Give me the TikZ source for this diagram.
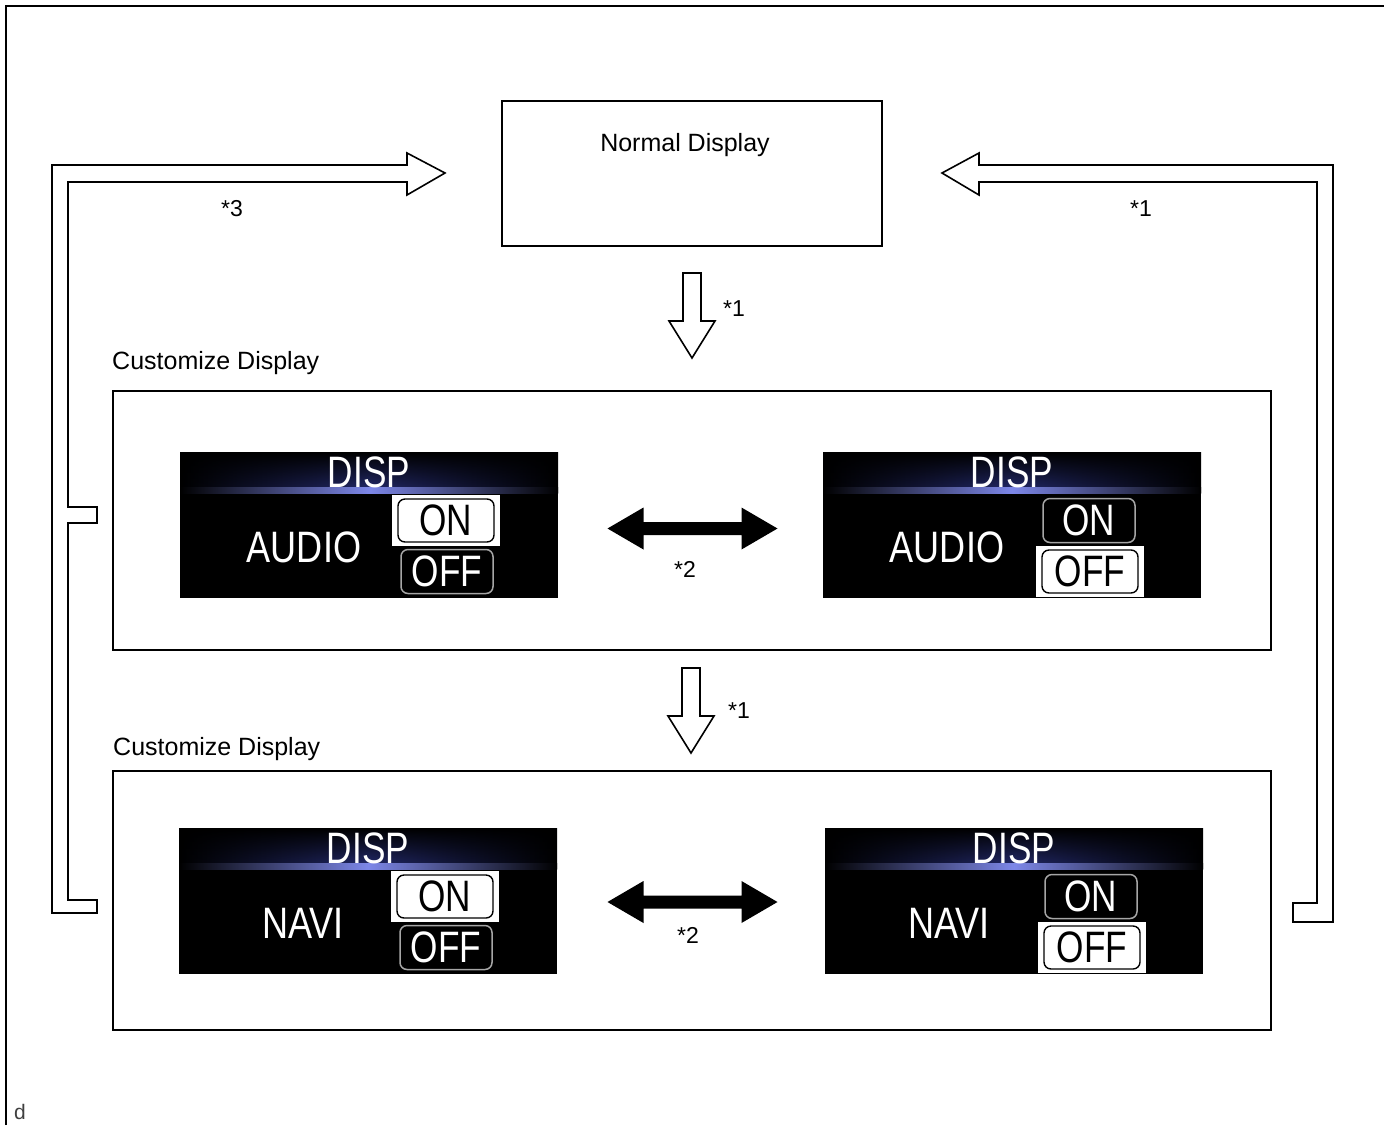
\documentclass[tikz,border=0pt]{standalone}
\usepackage{fontspec}
\setmainfont{Liberation Sans}
\usetikzlibrary{fadings,calc}
\tikzfading[name=fadedown, top color=transparent!0, bottom color=transparent!100]
\definecolor{bandblue}{RGB}{38,45,115}
\definecolor{glowblue}{RGB}{125,135,232}
\tikzset{
  frameline/.style={line width=1.5pt},
  boxstyle/.style={draw, line width=1.6pt, inner sep=0, outer sep=0},
  lbl/.style={font=\fontsize{25}{30}\selectfont, inner sep=0, anchor=base},
  starlbl/.style={font=\fontsize{23}{28}\selectfont, inner sep=0, anchor=base},
  blockarrow/.style={draw, line width=1.6pt, fill=white, line join=miter},
  solidarrow/.style={fill=black},
  screenbg/.style={fill=black, minimum width=378pt, minimum height=146pt, inner sep=0, outer sep=0},
  scrtext/.style={text=white, font=\fontsize{44}{50}\selectfont, inner sep=0},
  btnsel/.style={fill=white, text=black, minimum width=108pt, minimum height=51pt, inner sep=0,
    font=\fontsize{44}{50}\selectfont,
    path picture={\draw[black, line width=1.4pt, rounded corners=7pt]
      ([xshift=6pt,yshift=-4pt]path picture bounding box.north west) rectangle
      ([xshift=-6pt,yshift=4pt]path picture bounding box.south east);}},
  btnun/.style={draw=gray!70, line width=1.5pt, rounded corners=7pt, text=white,
    minimum width=92pt, minimum height=44pt, inner sep=0, font=\fontsize{44}{50}\selectfont},
}
\newcommand\dispscreen[6]{%
  \node[screenbg, anchor=north west] (#1) at (#2,-#3) {};
  \begin{scope}[shift={(#2,-#3)}]
    \fill[left color=black, right color=black, middle color=bandblue] (0,0) rectangle (378,-40);
    \fill[black, path fading=fadedown] (0,0) rectangle (378,-40);
    \fill[left color=black, right color=black, middle color=glowblue] (0,-35) rectangle (378,-41);
    \node[scrtext] (#1disp) at (189,-20) {\scalebox{0.8}[1]{DISP}};
    \node[scrtext] (#1lbl) at (124,-95) {\scalebox{0.82}[1]{#4}};
    \node[#5] (#1on) at (266,-68.5) {\scalebox{0.8}[1]{ON}};
    \node[#6] (#1off) at (267,-119.5) {\scalebox{0.8}[1]{OFF}};
  \end{scope}}
\newcommand\blkdownarrow[1]{%
  \draw[blockarrow, shift={(#1)}] (-9,0) -- (9,0) -- (9,-48) -- (23,-48) -- (0,-85)
    -- (-23,-48) -- (-9,-48) -- cycle;}
\newcommand\blkdblarrow[1]{%
  \fill[solidarrow, shift={(#1)}] (-85,0) -- (-49,21) -- (-49,6.5) -- (49,6.5) -- (49,21)
    -- (85,0) -- (49,-21) -- (49,-6.5) -- (-49,-6.5) -- (-49,-21) -- cycle;}
\begin{document}
\begin{tikzpicture}[x=1pt,y=1pt]
\useasboundingbox (0,0) rectangle (1384,-1125);
% page frame
\draw[frameline] (6,-1125) -- (6,-6) -- (1384,-6);

% normal display
\node[boxstyle, minimum width=380pt, minimum height=145pt] (nd) at (692,-173.5) {};
\node[lbl] (ndt) at (685,-151) {Normal Display};

% customize display boxes
\node[lbl, anchor=base west] (c1t) at (112,-369) {Customize Display};
\node[boxstyle, minimum width=1158pt, minimum height=259pt] (box1) at (692,-520.5) {};
\node[lbl, anchor=base west] (c2t) at (113,-755) {Customize Display};
\node[boxstyle, minimum width=1158pt, minimum height=259pt] (box2) at (692,-900.5) {};

% screens
\dispscreen{sa}{180}{452}{AUDIO}{btnsel}{btnun}
\dispscreen{sb}{823}{452}{AUDIO}{btnun}{btnsel}
\dispscreen{sc}{179}{828}{NAVI}{btnsel}{btnun}
\dispscreen{sd}{825}{828}{NAVI}{btnun}{btnsel}

% down arrows
\coordinate (d1) at (692,-273);
\coordinate (d2) at (691,-668);
\blkdownarrow{d1}
\blkdownarrow{d2}
\node[starlbl] (l1) at (734,-316) {*1};
\node[starlbl] (l2) at (739,-718) {*1};

% double arrows
\coordinate (m1) at (692.5,-528.5);
\coordinate (m2) at (692.5,-902);
\blkdblarrow{m1}
\blkdblarrow{m2}
\node[starlbl] (l3) at (685,-577) {*2};
\node[starlbl] (l4) at (688,-943) {*2};

% left loop (*3)
\draw[blockarrow] (97,-913) -- (52,-913) -- (52,-165) -- (407,-165) -- (407,-153)
  -- (445,-173) -- (407,-195) -- (407,-182) -- (68,-182) -- (68,-507) -- (97,-507)
  -- (97,-523) -- (68,-523) -- (68,-900) -- (97,-900) -- cycle;
\node[starlbl] (l5) at (232,-216) {*3};

% right loop (*1)
\draw[blockarrow] (1333,-922) -- (1333,-165) -- (979,-165) -- (979,-153) -- (942,-173)
  -- (979,-195) -- (979,-182) -- (1317,-182) -- (1317,-903) -- (1293,-903)
  -- (1293,-922) -- cycle;
\node[starlbl] (l6) at (1141,-216) {*1};

% corner mark
\node[font=\fontsize{21}{24}\selectfont, text=black!75, inner sep=0, anchor=base] (dm) at (20,-1119) {d};
\end{tikzpicture}
\end{document}
